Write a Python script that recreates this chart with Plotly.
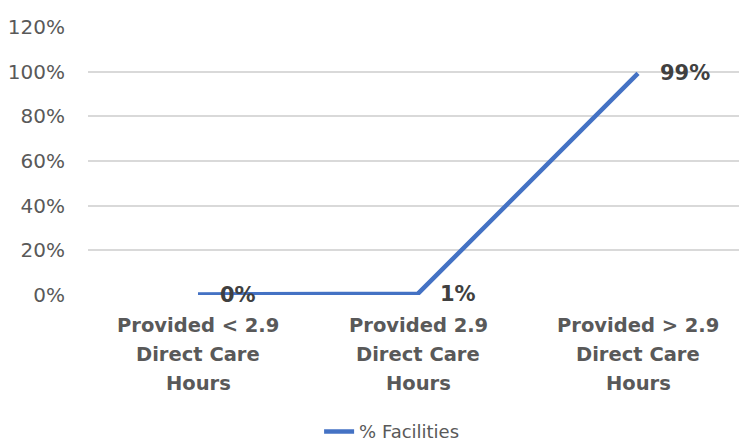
import plotly.graph_objects as go

categories = ["Provided < 2.9|Direct Care|Hours",
              "Provided 2.9|Direct Care|Hours",
              "Provided > 2.9|Direct Care|Hours"]
pct_facilities = [0.2, 0.6, 99.2]
series_name = "% Facilities"
y_ticks = [0, 20, 40, 60, 80, 100, 120]

FONT = "DejaVu Sans"
fig = go.Figure()
fig.add_trace(go.Scatter(
    x=list(range(len(categories))), y=pct_facilities, mode="lines",
    name=series_name, line=dict(color="#4472C4", width=4.5),
    showlegend=True,
))
for i, v in enumerate(pct_facilities):
    fig.add_annotation(x=i, y=v, text=f"<b>{round(v):.0f}%</b>", showarrow=False,
                       xanchor="left", yanchor="middle", xshift=20,
                       font=dict(family=FONT, size=21, color="#404040"))

for i, c in enumerate(categories):
    for j, line in enumerate(c.split("|")):
        fig.add_annotation(x=i, xref="x", y=0, yref="paper", text=f"<b>{line}</b>",
                           showarrow=False, xanchor="center", yanchor="middle",
                           yshift=-30 - 29 * j,
                           font=dict(family=FONT, size=19.5, color="#595959"))

fig.update_layout(
    width=747, height=444,
    margin=dict(l=80, r=7, t=19, b=157, autoexpand=False),
    paper_bgcolor="white", plot_bgcolor="white",
    font=dict(family=FONT, color="#595959"),
    xaxis=dict(range=[-0.5, 2.5], showticklabels=False, automargin=False,
               showgrid=False, zeroline=False, showline=False, ticks=""),
    yaxis=dict(range=[0, 120], tickmode="array", tickvals=y_ticks,
               ticktext=[f"{t}%" for t in y_ticks], automargin=False,
               tickfont=dict(size=20, color="#595959"),
               gridcolor="#D9D9D9", gridwidth=1.5, zeroline=False,
               showline=False, ticks="", ticklabelstandoff=22),
    legend=dict(orientation="h", x=0.46, xanchor="center", y=-0.51, yanchor="middle",
                font=dict(size=18, color="#595959")),
)
fig.write_html("out.html")
